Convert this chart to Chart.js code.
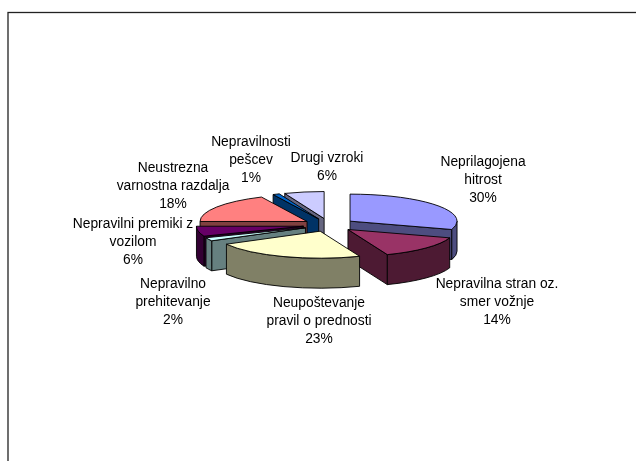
<!DOCTYPE html>
<html>
<head>
<meta charset="utf-8">
<style>
html, body { margin: 0; padding: 0; background: #fff; overflow: hidden; }
canvas { display: block; filter: blur(0.5px); }
</style>
<script src="https://cdn.jsdelivr.net/npm/chart.js"></script>
</head>
<body>
<canvas id="pieChart" width="636" height="461"></canvas>
<script>
// Chart data
var categories = [
    ['Neprilagojena', 'hitrost'],
    ['Nepravilna stran oz.', 'smer vožnje'],
    ['Neupoštevanje', 'pravil o prednosti'],
    ['Nepravilno', 'prehitevanje'],
    ['Nepravilni premiki z', 'vozilom'],
    ['Neustrezna', 'varnostna razdalja'],
    ['Nepravilnosti', 'pešcev'],
    ['Drugi vzroki']
];
var percentages = [30, 14, 23, 2, 6, 18, 1, 6];

// Colours
var topColors = ['#9999ff', '#993366', '#ffffcc', '#ccffff', '#660066', '#ff8080', '#0066cc', '#ccccff'];
var wallColors = ['#4d4d80', '#4d1a33', '#808066', '#668080', '#330033', '#804040', '#003366', '#666680'];

// Where the label blocks sit (centre x, y of first line)
var labelX = [483, 497, 319, 173, 133, 173, 251, 327];
var labelY = [162, 284, 303, 284, 224, 168, 142, 158];

// Pie look
var tilt = 0.2525;    // flattening of the pie
var depth = 30;       // height of the walls
var explode = 26;     // how far slices are pulled out

function slicePoint(c, rx, ry, angle) {
    return { x: c.x + rx * Math.cos(angle), y: c.y + ry * Math.sin(angle) };
}

// Draws one radial wall, from the slice apex to the rim
function radialWall(ctx, c, rx, ry, angle) {
    var p = slicePoint(c, rx, ry, angle);
    ctx.beginPath();
    ctx.moveTo(c.x, c.y);
    ctx.lineTo(p.x, p.y);
    ctx.lineTo(p.x, p.y + depth);
    ctx.lineTo(c.x, c.y + depth);
    ctx.closePath();
    ctx.fill();
    ctx.stroke();
}

// Draws the rim wall, only the part that faces the viewer
function rimWall(ctx, c, rx, ry, start, end) {
    var a = Math.max(start, 0);
    var b = Math.min(end, Math.PI);
    if (b <= a) {
        return;
    }
    ctx.beginPath();
    ctx.ellipse(c.x, c.y, rx, ry, 0, a, b);
    ctx.ellipse(c.x, c.y + depth, rx, ry, 0, b, a, true);
    ctx.closePath();
    ctx.fill();
    ctx.stroke();
}

var pie3dPlugin = {
    id: 'pie3d',
    beforeDraw: function (chart) {
        // Frame around the picture, cut by the right and bottom edges
        var ctx = chart.ctx;
        ctx.save();
        ctx.fillStyle = '#ffffff';
        ctx.fillRect(0, 0, chart.width, chart.height);
        ctx.strokeStyle = '#222222';
        ctx.lineWidth = 1.3;
        ctx.strokeRect(8, 12.5, chart.width + 20, chart.height + 20);
        ctx.restore();
    },
    beforeDatasetDraw: function (chart) {
        var ctx = chart.ctx;
        var arcs = chart.getDatasetMeta(0).data;

        // Paint the slices from the back to the front
        var order = arcs.map(function (arc, i) {
            return i;
        }).sort(function (a, b) {
            return Math.sin((arcs[a].startAngle + arcs[a].endAngle) / 2) -
                Math.sin((arcs[b].startAngle + arcs[b].endAngle) / 2);
        });

        order.forEach(function (i) {
            var arc = arcs[i];
            var mid = (arc.startAngle + arc.endAngle) / 2;
            var rx = arc.outerRadius;
            var ry = rx * tilt;
            var c = {
                x: arc.x + Math.cos(mid) * explode,
                y: arc.y + Math.sin(mid) * explode * tilt
            };

            ctx.save();
            ctx.lineWidth = 0.9;
            ctx.lineJoin = 'round';
            ctx.strokeStyle = '#000000';
            ctx.fillStyle = wallColors[i];
            // Only the walls turned towards the viewer
            if (Math.sin(arc.startAngle - Math.PI / 2) > 0) {
                radialWall(ctx, c, rx, ry, arc.startAngle);
            }
            if (Math.sin(arc.endAngle + Math.PI / 2) > 0) {
                radialWall(ctx, c, rx, ry, arc.endAngle);
            }
            rimWall(ctx, c, rx, ry, arc.startAngle, arc.endAngle);

            // Top face is the library's own arc, flattened and moved out
            ctx.save();
            ctx.translate(c.x, c.y);
            ctx.scale(1, tilt);
            ctx.translate(-arc.x, -arc.y);
            arc.draw(ctx);
            ctx.restore();

            ctx.beginPath();
            ctx.moveTo(c.x, c.y);
            ctx.ellipse(c.x, c.y, rx, ry, 0, arc.startAngle, arc.endAngle);
            ctx.closePath();
            ctx.stroke();
            ctx.restore();
        });
        return false;
    },
    afterDatasetsDraw: function (chart) {
        var ctx = chart.ctx;
        ctx.save();
        ctx.fillStyle = '#000000';
        ctx.font = '13.8px "Liberation Sans"';
        ctx.textAlign = 'center';
        ctx.textBaseline = 'middle';
        categories.forEach(function (lines, i) {
            var all = lines.concat(percentages[i] + '%');
            all.forEach(function (line, n) {
                ctx.fillText(line, labelX[i], labelY[i] + n * 18);
            });
        });
        ctx.restore();
    }
};

new Chart(document.getElementById('pieChart'), {
    type: 'pie',
    data: {
        labels: categories.map(function (lines) { return lines.join(' '); }),
        datasets: [{
            data: percentages,
            backgroundColor: topColors,
            borderWidth: 0,
            radius: 107
        }]
    },
    options: {
        responsive: false,
        animation: false,
        events: [],
        layout: { padding: { left: 22, right: 0, top: 0, bottom: 11 } },
        plugins: {
            legend: { display: false },
            tooltip: { enabled: false }
        }
    },
    plugins: [pie3dPlugin]
});
</script>
</body>
</html>
